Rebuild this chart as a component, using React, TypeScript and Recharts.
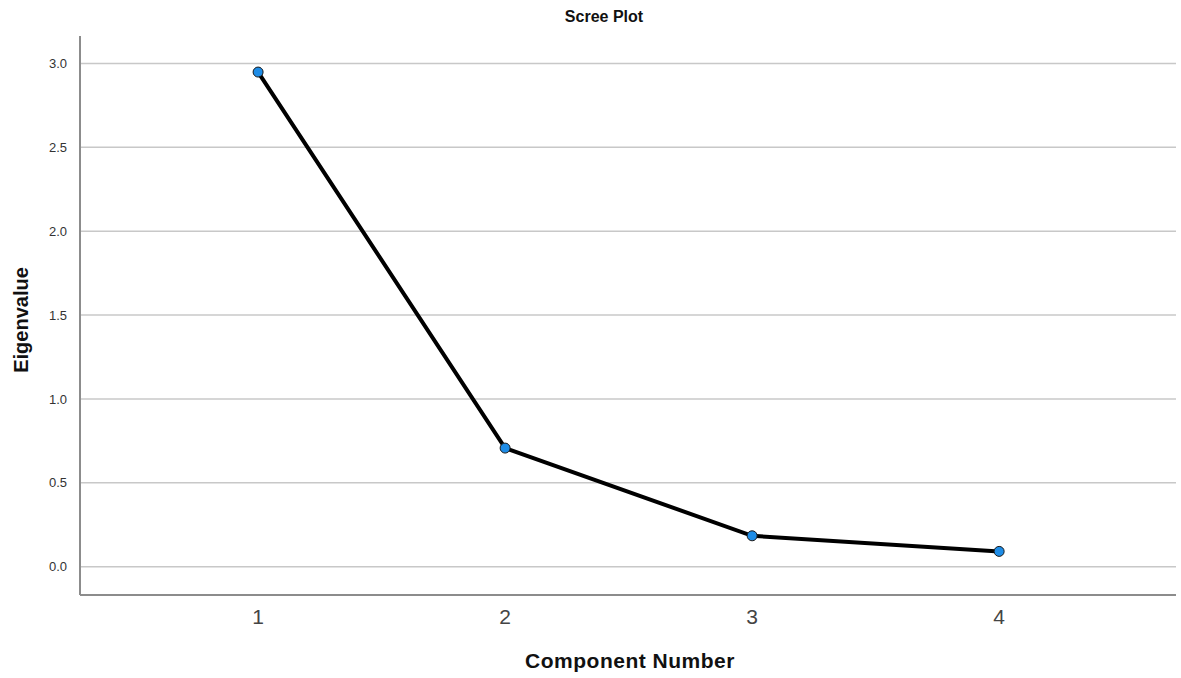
import React from "react";
import { LineChart, Line, XAxis, YAxis, CartesianGrid } from "recharts";

const components = [1, 2, 3, 4];
const eigenvalues = [2.949, 0.707, 0.184, 0.091];
const yTicks = [0, 0.5, 1.0, 1.5, 2.0, 2.5, 3.0];
const xTicks = [1, 2, 3, 4];

const data = components.map((c, i) => ({ component: c, eigenvalue: eigenvalues[i] }));

const font = "'Liberation Sans', Arial, sans-serif";

export default function App() {
  return (
    <div style={{ position: "absolute", left: 0, top: 0, width: 1181, height: 678, background: "#fff", fontFamily: font }}>
      <div style={{ position: "absolute", left: 0, width: 1208, top: 8, textAlign: "center", fontWeight: "bold", fontSize: 16, color: "#111" }}>
        Scree Plot
      </div>
      <div style={{ position: "absolute", left: 80, width: 1100, top: 649, textAlign: "center", fontWeight: "bold", fontSize: 21, letterSpacing: 0.5, color: "#111" }}>
        Component Number
      </div>
      <div style={{ position: "absolute", left: 21, top: 320, transform: "translate(-50%, -50%) rotate(-90deg)", fontWeight: "bold", fontSize: 20, color: "#111", whiteSpace: "nowrap" }}>
        Eigenvalue
      </div>
      <LineChart width={1181} height={678} data={data} margin={{ top: 36, right: 5, bottom: 0, left: 0 }}>
        <CartesianGrid vertical={false} horizontalValues={yTicks} stroke="#c8c8c8" strokeWidth={1.5} />
        <XAxis
          dataKey="component"
          type="number"
          domain={[0.279, 4.716]}
          ticks={xTicks}
          height={83}
          tickLine={false}
          axisLine={{ stroke: "#8c8c8c", strokeWidth: 2 }}
          tick={{ fontSize: 21, fill: "#444", fontFamily: font }}
          tickMargin={8}
          allowDataOverflow
        />
        <YAxis
          type="number"
          domain={[-0.169, 3.164]}
          ticks={yTicks}
          width={80}
          tickLine={false}
          axisLine={{ stroke: "#8c8c8c", strokeWidth: 2 }}
          tick={{ fontSize: 13, fill: "#333", fontFamily: font }}
          tickFormatter={(v: number) => v.toFixed(1)}
          tickMargin={7}
          allowDataOverflow
        />
        <Line
          dataKey="eigenvalue"
          stroke="#000"
          strokeWidth={4}
          isAnimationActive={false}
          dot={{ r: 5, fill: "#1e8ce6", stroke: "#1a1a1a", strokeWidth: 1 }}
          activeDot={false}
        />
      </LineChart>
    </div>
  );
}
